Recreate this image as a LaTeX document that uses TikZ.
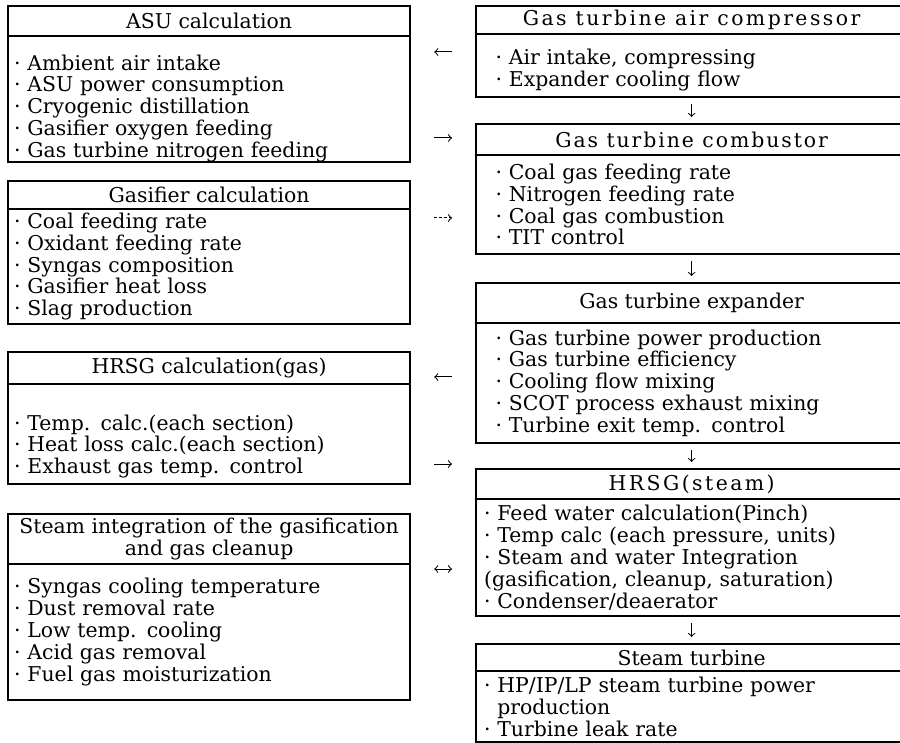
\documentclass[tikz,border=0pt]{standalone}
\usepackage{fontspec}
\setmainfont{DejaVu Serif}
\tikzset{
  boxtitle/.style={draw,line width=1.1pt,anchor=north west,inner sep=0pt,align=center,
    font=\fontsize{10.2}{11.2}\selectfont},
  spread/.style={font=\fontsize{10.2}{11.2}\selectfont\addfontfeatures{LetterSpace=#1}},
  boxbody/.style={draw,line width=1.1pt,anchor=north west,inner ysep=0pt,align=left,
    font=\fontsize{10.2}{10.9}\selectfont},
  lbody/.style={boxbody,inner xsep=3pt,text width=195pt},
  rbody/.style={boxbody,inner xsep=4pt,text width=207.5pt},
  rbodyin/.style={boxbody,inner xsep=9.75pt,text width=196pt},
  push/.style={execute at begin node={\rule{0pt}{#1}}},
  flow/.style={->,line width=0.5pt,shorten <=11.5pt,shorten >=11.5pt},
  vflow/.style={->,line width=0.5pt,shorten <=3pt,shorten >=3pt}
}
\begin{document}
\begin{tikzpicture}[x=0.5pt,y=-0.5pt]
  \useasboundingbox (0,0) rectangle (900,743);
  \clip (0,0) rectangle (900,743);

  \node[boxtitle,minimum width=201pt,minimum height=15pt] (asu) at (7,5) {ASU calculation};
  \node[lbody,push=17pt,minimum height=59pt] (asu-body) at (7,35)
    {· Ambient air intake\\ · ASU power consumption\\ · Cryogenic distillation\\
     · Gasifier oxygen feeding\\ · Gas turbine nitrogen feeding};

  \node[boxtitle,minimum width=201pt,minimum height=14pt] (gsf) at (7,180) {Gasifier calculation};
  \node[lbody,minimum height=57.5pt] (gsf-body) at (7,208)
    {· Coal feeding rate\\ · Oxidant feeding rate\\ · Syngas composition\\
     · Gasifier heat loss\\ · Slag production};

  \node[boxtitle,minimum width=201pt,minimum height=16pt] (hrg) at (7,351) {HRSG calculation(gas)};
  \node[lbody,push=20pt,minimum height=50pt] (hrg-body) at (7,383)
    {· Temp. calc.(each section)\\ · Heat loss calc.(each section)\\ · Exhaust gas temp. control};

  \node[boxtitle,minimum width=201pt,minimum height=25pt] (sig) at (7,513)
    {Steam integration of the gasification\\ and gas cleanup};
  \node[lbody,minimum height=68pt] (sig-body) at (7,563)
    {· Syngas cooling temperature\\ · Dust removal rate\\ · Low temp. cooling\\
     · Acid gas removal\\ · Fuel gas moisturization};

  \node[boxtitle,spread=12,minimum width=215.5pt,minimum height=14pt] (gtac) at (475,5)
    {Gas turbine air compressor};
  \node[rbodyin,push=12.5pt,minimum height=31.5pt] (gtac-body) at (475,33)
    {· Air intake, compressing\\ · Expander cooling flow};

  \node[boxtitle,spread=9.5,minimum width=215.5pt,minimum height=15.5pt] (gtcb) at (475,123)
    {Gas turbine combustor};
  \node[rbodyin,minimum height=49.5pt] (gtcb-body) at (475,154)
    {· Coal gas feeding rate\\ · Nitrogen feeding rate\\ · Coal gas combustion\\ · TIT control};

  \node[boxtitle,minimum width=215.5pt,minimum height=20pt] (gtex) at (475,282) {Gas turbine expander};
  \node[rbodyin,minimum height=60pt] (gtex-body) at (475,322)
    {· Gas turbine power production\\ · Gas turbine efficiency\\ · Cooling flow mixing\\
     · SCOT process exhaust mixing\\ · Turbine exit temp. control};

  \node[boxtitle,spread=12,minimum width=215.5pt,minimum height=15pt] (hrs) at (475,468) {HRSG(steam)};
  \node[rbody,minimum height=58.5pt] (hrs-body) at (475,498)
    {· Feed water calculation(Pinch)\\ · Temp calc (each pressure, units)\\
     · Steam and water Integration\\ (gasification, cleanup, saturation)\\ · Condenser/deaerator};

  \node[boxtitle,minimum width=215.5pt,minimum height=13.5pt] (stt) at (475,643) {Steam turbine};
  \node[rbody,minimum height=35.5pt] (stt-body) at (475,670)
    {· HP/IP/LP steam turbine power\\ \hphantom{·\ }production\\ · Turbine leak rate};

  \draw[vflow] (gtac-body.south) -- (gtcb.north);
  \draw[vflow] (gtcb-body.south) -- (gtex.north);
  \draw[vflow] (gtex-body.south) -- (hrs.north);
  \draw[vflow] (hrs-body.south) -- (stt.north);

  \draw[flow] (gtac-body.west |- 0,52) -- (asu-body.east |- 0,52);
  \draw[flow] (asu-body.east |- 0,138) -- (gtcb.west |- 0,138);
  \draw[flow,dash pattern=on 1.5pt off 1pt] (gsf-body.east |- 0,218) -- (gtcb-body.west |- 0,218);
  \draw[flow] (gtex-body.west |- 0,377) -- (hrg.east |- 0,377);
  \draw[flow] (hrg-body.east |- 0,464) -- (hrs.west |- 0,464);
  \draw[flow,<->] (sig-body.east |- 0,569) -- (hrs-body.west |- 0,569);
\end{tikzpicture}
\end{document}
